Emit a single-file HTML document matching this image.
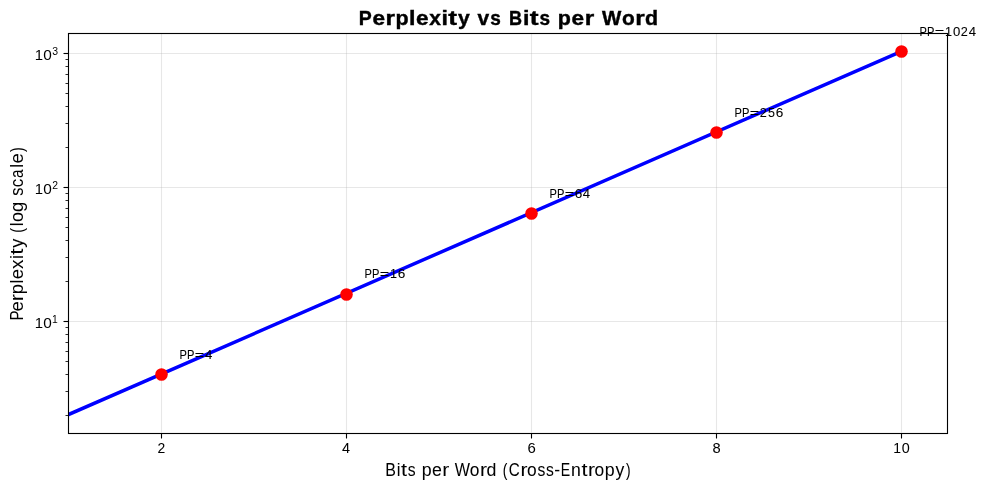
<!DOCTYPE html>
<html lang="en"><head><meta charset="utf-8"><title>Perplexity vs Bits per Word</title>
<style>
html,body{margin:0;padding:0;background:#fff;}
body{width:986px;height:490px;overflow:hidden;font-family:"Liberation Sans",sans-serif;}
svg{display:block;will-change:transform;}
svg text{font-family:"Liberation Sans",sans-serif;fill:#000;}
.grid line{stroke:#b0b0b0;stroke-opacity:0.3;stroke-width:1.111;}
.maj line{stroke:#000;stroke-width:1.111;}
.min line{stroke:#000;stroke-width:0.833;}
</style></head><body>
<svg width="986" height="490" viewBox="0 0 986 490">
<rect x="0" y="0" width="986" height="490" fill="#ffffff"/>
<defs><clipPath id="axclip"><rect x="68.448" y="33.333" width="878.776" height="399.389"/></clipPath></defs>
<!-- grid -->
<g class="grid">
<line x1="161.5" y1="33.333" x2="161.5" y2="432.722"/>
<line x1="346.5" y1="33.333" x2="346.5" y2="432.722"/>
<line x1="531.5" y1="33.333" x2="531.5" y2="432.722"/>
<line x1="716.5" y1="33.333" x2="716.5" y2="432.722"/>
<line x1="901.5" y1="33.333" x2="901.5" y2="432.722"/>
<line x1="68.448" y1="321.5" x2="947.224" y2="321.5"/>
<line x1="68.448" y1="187.5" x2="947.224" y2="187.5"/>
<line x1="68.448" y1="53.5" x2="947.224" y2="53.5"/>
</g>
<!-- major ticks -->
<g class="maj">
<line x1="161.5" y1="433.5" x2="161.5" y2="438.5"/>
<line x1="346.5" y1="433.5" x2="346.5" y2="438.5"/>
<line x1="531.5" y1="433.5" x2="531.5" y2="438.5"/>
<line x1="716.5" y1="433.5" x2="716.5" y2="438.5"/>
<line x1="901.5" y1="433.5" x2="901.5" y2="438.5"/>
<line x1="63.5" y1="321.5" x2="68.5" y2="321.5"/>
<line x1="63.5" y1="187.5" x2="68.5" y2="187.5"/>
<line x1="63.5" y1="53.5" x2="68.5" y2="53.5"/>
</g>
<!-- minor ticks -->
<g class="min">
<line x1="65.5" y1="415.5" x2="68.5" y2="415.5"/>
<line x1="65.5" y1="391.5" x2="68.5" y2="391.5"/>
<line x1="65.5" y1="374.5" x2="68.5" y2="374.5"/>
<line x1="65.5" y1="361.5" x2="68.5" y2="361.5"/>
<line x1="65.5" y1="351.5" x2="68.5" y2="351.5"/>
<line x1="65.5" y1="342.5" x2="68.5" y2="342.5"/>
<line x1="65.5" y1="334.5" x2="68.5" y2="334.5"/>
<line x1="65.5" y1="327.5" x2="68.5" y2="327.5"/>
<line x1="65.5" y1="281.5" x2="68.5" y2="281.5"/>
<line x1="65.5" y1="257.5" x2="68.5" y2="257.5"/>
<line x1="65.5" y1="240.5" x2="68.5" y2="240.5"/>
<line x1="65.5" y1="227.5" x2="68.5" y2="227.5"/>
<line x1="65.5" y1="217.5" x2="68.5" y2="217.5"/>
<line x1="65.5" y1="208.5" x2="68.5" y2="208.5"/>
<line x1="65.5" y1="200.5" x2="68.5" y2="200.5"/>
<line x1="65.5" y1="193.5" x2="68.5" y2="193.5"/>
<line x1="65.5" y1="147.5" x2="68.5" y2="147.5"/>
<line x1="65.5" y1="123.5" x2="68.5" y2="123.5"/>
<line x1="65.5" y1="106.5" x2="68.5" y2="106.5"/>
<line x1="65.5" y1="93.5" x2="68.5" y2="93.5"/>
<line x1="65.5" y1="83.5" x2="68.5" y2="83.5"/>
<line x1="65.5" y1="74.5" x2="68.5" y2="74.5"/>
<line x1="65.5" y1="66.5" x2="68.5" y2="66.5"/>
<line x1="65.5" y1="59.5" x2="68.5" y2="59.5"/>
</g>
<!-- data -->
<g clip-path="url(#axclip)">
<line x1="68.448" y1="414.568" x2="900.972" y2="51.487" stroke="#0000ff" stroke-width="3.472" stroke-linecap="square"/>
<circle cx="161.5" cy="374.5" r="6.270" fill="#ff0000"/>
<circle cx="346.5" cy="294.5" r="6.270" fill="#ff0000"/>
<circle cx="531.5" cy="213.5" r="6.270" fill="#ff0000"/>
<circle cx="716.5" cy="132.5" r="6.270" fill="#ff0000"/>
<circle cx="901.5" cy="51.5" r="6.270" fill="#ff0000"/>
</g>
<!-- spines -->
<rect x="68.5" y="33.5" width="879.0" height="400.0" fill="none" stroke="#000" stroke-width="1.111" stroke-linejoin="miter"/>
<!-- x tick labels -->
<text transform="translate(157.25 453.00)" y="0" font-size="14.31" stroke="#000" stroke-width="0.025"><tspan x="0.33" textLength="7.72" lengthAdjust="spacingAndGlyphs">2</tspan></text>
<text transform="translate(341.56 453.00)" y="0" font-size="14.31" stroke="#000" stroke-width="0.025"><tspan x="0.38" textLength="8.03" lengthAdjust="spacingAndGlyphs">4</tspan></text>
<text transform="translate(527.25 453.00)" y="0" font-size="14.31" stroke="#000" stroke-width="0.025"><tspan x="0.27" textLength="8.30" lengthAdjust="spacingAndGlyphs">6</tspan></text>
<text transform="translate(712.25 453.00)" y="0" font-size="14.31" stroke="#000" stroke-width="0.025"><tspan x="0.39" textLength="8.16" lengthAdjust="spacingAndGlyphs">8</tspan></text>
<text transform="translate(892.69 453.00)" y="0" font-size="14.31" stroke="#000" stroke-width="0.025"><tspan x="0.52" textLength="7.76" lengthAdjust="spacingAndGlyphs">1</tspan><tspan x="9.17" textLength="8.01" lengthAdjust="spacingAndGlyphs">0</tspan></text>
<!-- y tick labels -->
<text transform="translate(34.50 327.50)" y="0" font-size="15.31"><tspan x="0.24" textLength="8.29" lengthAdjust="spacingAndGlyphs">1</tspan><tspan x="8.89" textLength="8.56" lengthAdjust="spacingAndGlyphs">0</tspan></text>
<text transform="translate(51.77 322.50)" y="0" font-size="10.05"><tspan x="0.13" textLength="5.75" lengthAdjust="spacingAndGlyphs">1</tspan></text>
<text transform="translate(34.50 193.50)" y="0" font-size="15.31"><tspan x="0.24" textLength="8.29" lengthAdjust="spacingAndGlyphs">1</tspan><tspan x="8.89" textLength="8.56" lengthAdjust="spacingAndGlyphs">0</tspan></text>
<text transform="translate(52.06 188.50)" y="0" font-size="10.05"><tspan x="0.09" textLength="5.78" lengthAdjust="spacingAndGlyphs">2</tspan></text>
<text transform="translate(34.50 59.50)" y="0" font-size="15.31"><tspan x="0.24" textLength="8.29" lengthAdjust="spacingAndGlyphs">1</tspan><tspan x="8.89" textLength="8.56" lengthAdjust="spacingAndGlyphs">0</tspan></text>
<text transform="translate(52.12 54.50)" y="0" font-size="10.05"><tspan x="0.15" textLength="5.83" lengthAdjust="spacingAndGlyphs">3</tspan></text>
<!-- axis labels and title -->
<text transform="translate(384.75 475.50)" y="0" font-size="18.01" stroke="#000" stroke-width="0.031"><tspan x="0.38" textLength="10.65" lengthAdjust="spacingAndGlyphs">B</tspan><tspan x="11.92" textLength="3.73" lengthAdjust="spacingAndGlyphs">i</tspan><tspan x="16.24" textLength="6.03" lengthAdjust="spacingAndGlyphs">t</tspan><tspan x="23.10" textLength="7.83" lengthAdjust="spacingAndGlyphs">s</tspan> <tspan x="36.90" textLength="9.90" lengthAdjust="spacingAndGlyphs">p</tspan><tspan x="47.23" textLength="9.87" lengthAdjust="spacingAndGlyphs">e</tspan><tspan x="57.42" textLength="6.97" lengthAdjust="spacingAndGlyphs">r</tspan> <tspan x="69.98" textLength="15.24" lengthAdjust="spacingAndGlyphs">W</tspan><tspan x="85.04" textLength="9.66" lengthAdjust="spacingAndGlyphs">o</tspan><tspan x="95.15" textLength="6.97" lengthAdjust="spacingAndGlyphs">r</tspan><tspan x="101.77" textLength="9.90" lengthAdjust="spacingAndGlyphs">d</tspan> <tspan x="117.97" textLength="4.60" lengthAdjust="spacingAndGlyphs">(</tspan><tspan x="124.09" textLength="10.95" lengthAdjust="spacingAndGlyphs">C</tspan><tspan x="135.67" textLength="6.97" lengthAdjust="spacingAndGlyphs">r</tspan><tspan x="142.18" textLength="9.66" lengthAdjust="spacingAndGlyphs">o</tspan><tspan x="152.70" textLength="7.83" lengthAdjust="spacingAndGlyphs">s</tspan><tspan x="161.36" textLength="7.83" lengthAdjust="spacingAndGlyphs">s</tspan><tspan x="169.47" textLength="5.88" lengthAdjust="spacingAndGlyphs">-</tspan><tspan x="176.00" textLength="9.39" lengthAdjust="spacingAndGlyphs">E</tspan><tspan x="186.36" textLength="9.83" lengthAdjust="spacingAndGlyphs">n</tspan><tspan x="196.72" textLength="6.03" lengthAdjust="spacingAndGlyphs">t</tspan><tspan x="203.18" textLength="6.97" lengthAdjust="spacingAndGlyphs">r</tspan><tspan x="209.70" textLength="9.66" lengthAdjust="spacingAndGlyphs">o</tspan><tspan x="220.07" textLength="9.90" lengthAdjust="spacingAndGlyphs">p</tspan><tspan x="230.80" textLength="8.79" lengthAdjust="spacingAndGlyphs">y</tspan><tspan x="241.36" textLength="4.60" lengthAdjust="spacingAndGlyphs">)</tspan></text>
<text transform="translate(22.50 320.89) rotate(-90)" y="0" font-size="17.66" stroke="#000" stroke-width="0.022"><tspan x="0.31" textLength="10.06" lengthAdjust="spacingAndGlyphs">P</tspan><tspan x="9.41" textLength="10.22" lengthAdjust="spacingAndGlyphs">e</tspan><tspan x="19.64" textLength="7.22" lengthAdjust="spacingAndGlyphs">r</tspan><tspan x="26.69" textLength="10.25" lengthAdjust="spacingAndGlyphs">p</tspan><tspan x="37.46" textLength="3.86" lengthAdjust="spacingAndGlyphs">l</tspan><tspan x="41.65" textLength="10.22" lengthAdjust="spacingAndGlyphs">e</tspan><tspan x="51.80" textLength="9.40" lengthAdjust="spacingAndGlyphs">x</tspan><tspan x="61.90" textLength="3.86" lengthAdjust="spacingAndGlyphs">i</tspan><tspan x="66.18" textLength="6.24" lengthAdjust="spacingAndGlyphs">t</tspan><tspan x="73.02" textLength="9.10" lengthAdjust="spacingAndGlyphs">y</tspan> <tspan x="88.16" textLength="4.76" lengthAdjust="spacingAndGlyphs">(</tspan><tspan x="94.64" textLength="3.86" lengthAdjust="spacingAndGlyphs">l</tspan><tspan x="98.86" textLength="10.00" lengthAdjust="spacingAndGlyphs">o</tspan><tspan x="109.01" textLength="10.25" lengthAdjust="spacingAndGlyphs">g</tspan> <tspan x="125.25" textLength="8.11" lengthAdjust="spacingAndGlyphs">s</tspan><tspan x="133.57" textLength="8.50" lengthAdjust="spacingAndGlyphs">c</tspan><tspan x="142.91" textLength="8.42" lengthAdjust="spacingAndGlyphs">a</tspan><tspan x="153.26" textLength="3.86" lengthAdjust="spacingAndGlyphs">l</tspan><tspan x="157.45" textLength="10.22" lengthAdjust="spacingAndGlyphs">e</tspan><tspan x="168.90" textLength="4.77" lengthAdjust="spacingAndGlyphs">)</tspan></text>
<text transform="translate(357.88 24.50)" y="0" font-size="21.00" font-weight="bold" stroke="#000" stroke-width="0.419"><tspan x="0.75" textLength="12.98" lengthAdjust="spacingAndGlyphs">P</tspan><tspan x="14.59" textLength="12.55" lengthAdjust="spacingAndGlyphs">e</tspan><tspan x="27.74" textLength="9.50" lengthAdjust="spacingAndGlyphs">r</tspan><tspan x="37.64" textLength="13.12" lengthAdjust="spacingAndGlyphs">p</tspan><tspan x="51.18" textLength="6.48" lengthAdjust="spacingAndGlyphs">l</tspan><tspan x="58.07" textLength="12.55" lengthAdjust="spacingAndGlyphs">e</tspan><tspan x="71.47" textLength="11.65" lengthAdjust="spacingAndGlyphs">x</tspan><tspan x="83.67" textLength="6.48" lengthAdjust="spacingAndGlyphs">i</tspan><tspan x="90.42" textLength="8.82" lengthAdjust="spacingAndGlyphs">t</tspan><tspan x="100.02" textLength="11.77" lengthAdjust="spacingAndGlyphs">y</tspan> <tspan x="119.62" textLength="11.66" lengthAdjust="spacingAndGlyphs">v</tspan><tspan x="132.38" textLength="10.57" lengthAdjust="spacingAndGlyphs">s</tspan> <tspan x="151.04" textLength="13.04" lengthAdjust="spacingAndGlyphs">B</tspan><tspan x="165.14" textLength="6.48" lengthAdjust="spacingAndGlyphs">i</tspan><tspan x="171.89" textLength="8.82" lengthAdjust="spacingAndGlyphs">t</tspan><tspan x="181.65" textLength="10.57" lengthAdjust="spacingAndGlyphs">s</tspan> <tspan x="199.96" textLength="13.12" lengthAdjust="spacingAndGlyphs">p</tspan><tspan x="213.71" textLength="12.55" lengthAdjust="spacingAndGlyphs">e</tspan><tspan x="226.86" textLength="9.50" lengthAdjust="spacingAndGlyphs">r</tspan> <tspan x="244.14" textLength="19.30" lengthAdjust="spacingAndGlyphs">W</tspan><tspan x="264.17" textLength="12.77" lengthAdjust="spacingAndGlyphs">o</tspan><tspan x="277.43" textLength="9.50" lengthAdjust="spacingAndGlyphs">r</tspan><tspan x="287.11" textLength="13.06" lengthAdjust="spacingAndGlyphs">d</tspan></text>
<!-- point annotations -->
<text transform="translate(179.06 359.00)" y="0" font-size="12.87" stroke="#000" stroke-width="0.084"><tspan x="0.33" textLength="7.39" lengthAdjust="spacingAndGlyphs">P</tspan><tspan x="7.87" textLength="7.39" lengthAdjust="spacingAndGlyphs">P</tspan><tspan x="15.64" textLength="9.50" lengthAdjust="spacingAndGlyphs">=</tspan><tspan x="25.86" textLength="7.32" lengthAdjust="spacingAndGlyphs">4</tspan></text>
<text transform="translate(364.06 278.00)" y="0" font-size="12.87" stroke="#000" stroke-width="0.084"><tspan x="0.33" textLength="7.39" lengthAdjust="spacingAndGlyphs">P</tspan><tspan x="7.87" textLength="7.39" lengthAdjust="spacingAndGlyphs">P</tspan><tspan x="15.64" textLength="9.50" lengthAdjust="spacingAndGlyphs">=</tspan><tspan x="25.90" textLength="7.02" lengthAdjust="spacingAndGlyphs">1</tspan><tspan x="33.68" textLength="7.56" lengthAdjust="spacingAndGlyphs">6</tspan></text>
<text transform="translate(549.06 198.00)" y="0" font-size="12.87" stroke="#000" stroke-width="0.084"><tspan x="0.33" textLength="7.39" lengthAdjust="spacingAndGlyphs">P</tspan><tspan x="7.87" textLength="7.39" lengthAdjust="spacingAndGlyphs">P</tspan><tspan x="15.64" textLength="9.50" lengthAdjust="spacingAndGlyphs">=</tspan><tspan x="25.72" textLength="7.56" lengthAdjust="spacingAndGlyphs">6</tspan><tspan x="33.81" textLength="7.32" lengthAdjust="spacingAndGlyphs">4</tspan></text>
<text transform="translate(734.06 117.00)" y="0" font-size="12.87" stroke="#000" stroke-width="0.084"><tspan x="0.33" textLength="7.39" lengthAdjust="spacingAndGlyphs">P</tspan><tspan x="7.87" textLength="7.39" lengthAdjust="spacingAndGlyphs">P</tspan><tspan x="15.64" textLength="9.50" lengthAdjust="spacingAndGlyphs">=</tspan><tspan x="25.78" textLength="7.04" lengthAdjust="spacingAndGlyphs">2</tspan><tspan x="33.99" textLength="6.92" lengthAdjust="spacingAndGlyphs">5</tspan><tspan x="41.63" textLength="7.56" lengthAdjust="spacingAndGlyphs">6</tspan></text>
<text transform="translate(919.06 36.00)" y="0" font-size="12.87" stroke="#000" stroke-width="0.084"><tspan x="0.33" textLength="7.39" lengthAdjust="spacingAndGlyphs">P</tspan><tspan x="7.87" textLength="7.39" lengthAdjust="spacingAndGlyphs">P</tspan><tspan x="15.64" textLength="9.50" lengthAdjust="spacingAndGlyphs">=</tspan><tspan x="25.90" textLength="7.02" lengthAdjust="spacingAndGlyphs">1</tspan><tspan x="33.85" textLength="7.30" lengthAdjust="spacingAndGlyphs">0</tspan><tspan x="41.68" textLength="7.04" lengthAdjust="spacingAndGlyphs">2</tspan><tspan x="49.72" textLength="7.32" lengthAdjust="spacingAndGlyphs">4</tspan></text>
</svg>
</body></html>
